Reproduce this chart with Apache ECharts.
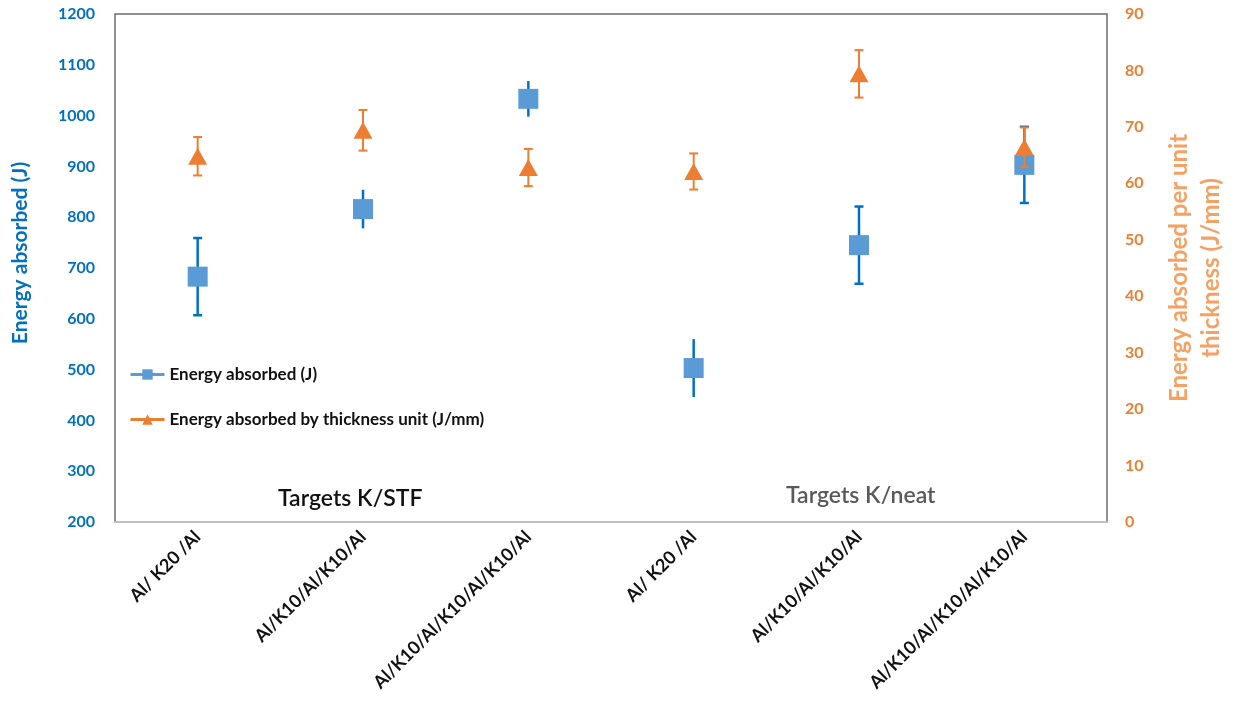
<!DOCTYPE html>
<html>
<head>
<meta charset="utf-8">
<script src="https://cdn.jsdelivr.net/npm/echarts@6/dist/echarts.min.js"></script>
<style>
  html, body { margin: 0; padding: 0; background: #fff; }
  #chart { width: 1235px; height: 702px; }
</style>
</head>
<body>
<div id="chart"></div>
<script>
// Target configurations (two groups of three: K/STF and K/neat)
const categories = [
  'Al/ K20 /Al', 'Al/K10/Al/K10/Al', 'Al/K10/Al/K10/Al/K10/Al',
  'Al/ K20 /Al', 'Al/K10/Al/K10/Al', 'Al/K10/Al/K10/Al/K10/Al'
];

// Energy absorbed (J) with standard deviations
const energy = [683, 816, 1033, 503, 745, 903];
const energyErr = [76, 38, 35, 57, 76, 75];

// Energy absorbed per unit thickness (J/mm) with standard deviations
const energyPerMm = [64.8, 69.4, 62.8, 62.1, 79.4, 66.4];
const energyPerMmErr = [3.4, 3.6, 3.3, 3.2, 4.2, 3.5];

// Axis ticks
const leftTicks = [200, 300, 400, 500, 600, 700, 800, 900, 1000, 1100, 1200];
const rightTicks = [0, 10, 20, 30, 40, 50, 60, 70, 80, 90];

const groupLabels = ['Targets K/STF', 'Targets K/neat'];

const BLUE = '#5B9BD5', BLUE_DARK = '#0070C0', ORANGE = '#ED7D31';
const FONT = 'Lato, "Liberation Sans", sans-serif';

function errorBars(values, errs, color, width, capW, capsOn) {
  return {
    type: 'custom',
    renderItem: function (params, api) {
      const x = api.value(0);
      const lo = api.coord([x, api.value(1)]);
      const hi = api.coord([x, api.value(2)]);
      const children = [{
        type: 'line',
        shape: { x1: lo[0], y1: lo[1], x2: hi[0], y2: hi[1] },
        style: { stroke: color, lineWidth: width }
      }];
      if (capsOn[params.dataIndex]) {
        children.push(
          { type: 'line', shape: { x1: lo[0] - capW / 2, y1: lo[1], x2: lo[0] + capW / 2, y2: lo[1] }, style: { stroke: color, lineWidth: width } },
          { type: 'line', shape: { x1: hi[0] - capW / 2, y1: hi[1], x2: hi[0] + capW / 2, y2: hi[1] }, style: { stroke: color, lineWidth: width } }
        );
      }
      return { type: 'group', children: children };
    },
    data: values.map((v, i) => [i, v - errs[i], v + errs[i]]),
    silent: true
  };
}

const chart = echarts.init(document.getElementById('chart'));
chart.setOption({
  animation: false,
  grid: {
    left: 115, right: 125, top: 14, bottom: 180,
    show: true, borderColor: '#6b6b6b', borderWidth: 1.5
  },
  legend: {
    left: 124, top: 361, orient: 'vertical', itemGap: 28,
    itemWidth: 34, itemHeight: 13,
    textStyle: { fontFamily: FONT, fontWeight: 'bold', fontSize: 17, color: '#111' },
    data: [
      { name: 'Energy absorbed (J)', lineStyle: { opacity: 1, width: 3, color: BLUE } },
      { name: 'Energy absorbed by thickness unit (J/mm)', lineStyle: { opacity: 1, width: 3, color: ORANGE } }
    ]
  },
  xAxis: {
    type: 'category',
    data: categories,
    axisLine: { lineStyle: { color: '#c0c0c0', width: 2 } },
    axisTick: { show: false },
    axisLabel: {
      rotate: 45, interval: 0, margin: 12,
      fontFamily: FONT, fontWeight: 'bold', fontSize: 18, color: '#111'
    }
  },
  yAxis: [{
    type: 'value',
    min: leftTicks[0], max: leftTicks[leftTicks.length - 1], interval: 100,
    name: 'Energy absorbed (J)', nameLocation: 'middle', nameGap: 84,
    nameTextStyle: { fontFamily: FONT, fontWeight: 'bold', fontSize: 21, color: BLUE_DARK, padding: [0, 0, 0, 30] },
    axisLine: { show: false }, axisTick: { show: false }, splitLine: { show: false },
    axisLabel: { margin: 20, fontFamily: FONT, fontWeight: 'bold', fontSize: 16, color: BLUE_DARK,
      formatter: v => String(v) }
  }, {
    type: 'value',
    min: rightTicks[0], max: rightTicks[rightTicks.length - 1], interval: 10,
    name: 'Energy absorbed per unit\nthickness (J/mm)', nameLocation: 'middle', nameGap: 56, nameRotate: 90,
    nameTextStyle: { fontFamily: FONT, fontWeight: 'bold', fontSize: 24, color: '#F4A163', lineHeight: 32 },
    axisLine: { show: false }, axisTick: { show: false }, splitLine: { show: false },
    axisLabel: { margin: 18, fontFamily: FONT, fontWeight: 'bold', fontSize: 16, color: ORANGE }
  }],
  graphic: [
    { type: 'text', left: 278, top: 487, style: { text: groupLabels[0], font: '600 23px ' + FONT, fill: '#111' } },
    { type: 'text', left: 786, top: 484, style: { text: groupLabels[1], font: '600 23px ' + FONT, fill: '#595959' } }
  ],
  series: [
    Object.assign(errorBars(energy, energyErr, BLUE_DARK, 2.5, 9, [true, false, false, false, true, true]), { yAxisIndex: 0, z: 2 }),
    {
      name: 'Energy absorbed (J)', type: 'line', yAxisIndex: 0, data: energy,
      symbol: 'rect', symbolSize: 20, itemStyle: { color: BLUE },
      lineStyle: { opacity: 0, color: BLUE }, z: 3
    },
    Object.assign(errorBars(energyPerMm, energyPerMmErr, ORANGE, 2, 9, [true, true, true, true, true, true]), { yAxisIndex: 1, z: 4 }),
    {
      name: 'Energy absorbed by thickness unit (J/mm)', type: 'line', yAxisIndex: 1, data: energyPerMm,
      symbol: 'triangle', symbolSize: [19, 17], itemStyle: { color: ORANGE },
      lineStyle: { opacity: 0, color: ORANGE }, z: 5
    }
  ]
});
</script>
</body>
</html>
